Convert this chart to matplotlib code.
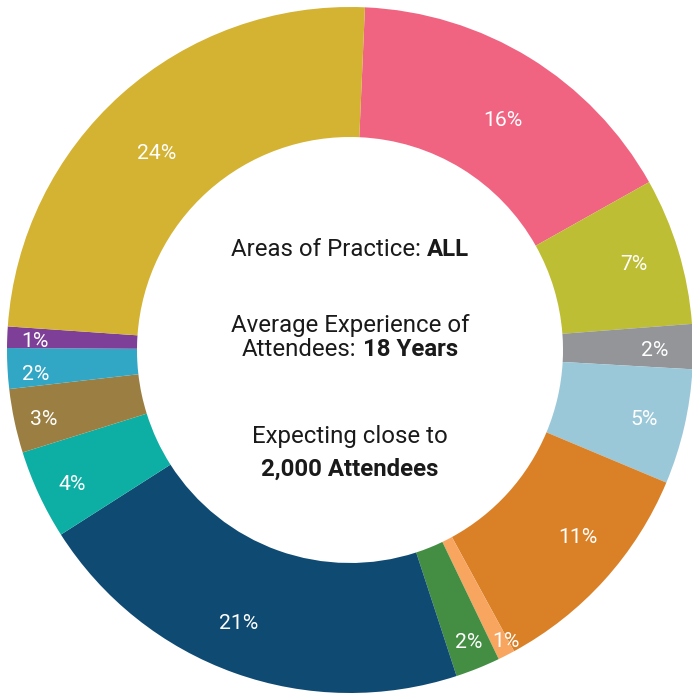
import matplotlib
matplotlib.use("Agg")
import matplotlib.pyplot as plt
import numpy as np

# ---- data (clockwise from top) ----
shares = [16.1, 6.9, 2.1, 5.4, 10.7, 0.8, 2.1, 20.9, 4.2, 3.0, 1.9, 1.0, 24.5]
labels = ["16%", "7%", "2%", "5%", "11%", "1%", "2%", "21%", "4%", "3%", "2%", "1%", "24%"]
colors = ["#F06482", "#BDBE33", "#939598", "#9BC8D9", "#DA8128", "#F8A55F",
          "#438E43", "#0F4A73", "#0DAFA4", "#9B7F42", "#32A6C5", "#7E3F98", "#D4B232"]
# label placement tweaks (fraction of outer radius, degrees off the slice middle)
label_radius = [0.81, 0.866, 0.889, 0.88, 0.856, 0.96, 0.914, 0.857, 0.898, 0.914, 0.92, 0.918, 0.808]
label_shift = [-1.8, 0.2, -0.2, 0.0, 3.0, 1.2, 0.4, -2.7, 0.6, 0.5, 0.9, 0.3, 2.6]

center_lines = [
    [("Areas of Practice:", "normal"), ("ALL", "bold")],
    [("Average Experience of", "normal")],
    [("Attendees:", "normal"), ("18 Years", "bold")],
    [("Expecting close to", "normal")],
    [("2,000 Attendees", "bold")],
]
center_baselines = [94, 18, -6, -93, -126]

plt.rcParams["font.family"] = ["Roboto", "DejaVu Sans"]

W, H = 692, 698
fig = plt.figure(figsize=(W / 100, H / 100), dpi=100)
ax = fig.add_axes([0, 0, 1, 1])

R_OUT, R_IN = 343, 213
START = 87.5
ax.pie(shares, colors=colors, startangle=START, counterclock=False,
       radius=R_OUT, wedgeprops=dict(width=R_OUT - R_IN, linewidth=0))
ax.set_xlim(-350, W - 350)
ax.set_ylim(-(H - 350), 350)
ax.set_aspect("equal")
ax.axis("off")

lab_pt = 15.2
cap = 0.711 * lab_pt * 100 / 72
total = sum(shares)
cum = 0.0
for v, lab, rf, sh in zip(shares, labels, label_radius, label_shift):
    mid = np.deg2rad(START - 360.0 * (cum + v / 2) / total + sh)
    cum += v
    ax.text(rf * R_OUT * np.cos(mid), rf * R_OUT * np.sin(mid) - cap / 2, lab,
            color="white", fontsize=lab_pt, ha="center", va="baseline")

fig.canvas.draw()
renderer = fig.canvas.get_renderer()
size_pt = 17.3
gap = 0.25 * size_pt * 100 / 72
for parts, yb in zip(center_lines, center_baselines):
    texts = [ax.text(0, yb, t, fontsize=size_pt, fontweight=w, color="#1a1a1a",
                     ha="left", va="baseline") for t, w in parts]
    widths = [t.get_window_extent(renderer).width for t in texts]
    tot = sum(widths) + gap * (len(texts) - 1)
    x = -tot / 2
    for t, w in zip(texts, widths):
        t.set_x(x)
        x += w + gap

fig.savefig("out.png", dpi=100)
